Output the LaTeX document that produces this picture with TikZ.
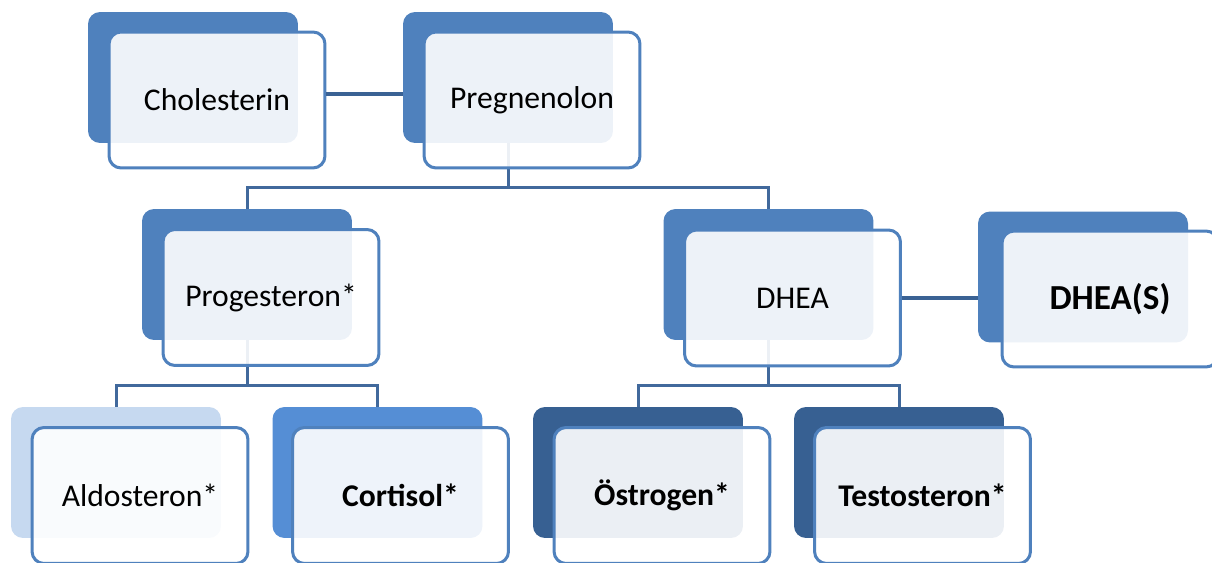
\documentclass[tikz,border=0pt]{standalone}
\usepackage{fontspec}
\setmainfont{Carlito}
\usetikzlibrary{calc}
\definecolor{boxblue}{HTML}{4F81BD}
\definecolor{paleblue}{HTML}{C6D9F0}
\definecolor{brightblue}{HTML}{558ED5}
\definecolor{deepblue}{HTML}{376092}
\definecolor{treeblue}{HTML}{41699C}
\definecolor{linkblue}{HTML}{3A6294}
\tikzset{
	backbox/.style={rectangle, rounded corners=0.24cm, minimum width=4.2cm, minimum height=2.62cm, inner sep=0pt, fill=#1},
	backbox/.default=boxblue,
	frontbox/.style={rectangle, rounded corners=0.24cm, minimum width=4.32cm, minimum height=2.72cm, inner sep=0pt,
		fill=white, fill opacity=0.9, text opacity=1, draw=boxblue, line width=0.06cm,
		font=\fontsize{18}{21}\selectfont},
	tree/.style={line width=0.06cm, draw=treeblue},
	link/.style={line width=0.08cm, draw=linkblue},
}
\begin{document}
\begin{tikzpicture}[x=0.02cm, y=-0.02cm]
			%%%%% FRAME %%%%%
			\clip (0, 0) rectangle (1212, 563);
			
			%%%%% BACK SHAPES %%%%%
			\node[backbox] (cholB) at (193, 77.5) {};
			\node[backbox] (pregB) at (508, 77.5) {};
			
			\node[backbox] (progB) at (247, 274.5) {};
			\node[backbox] (dheaB) at (768.5, 274.5) {};
			\node[backbox] (dheasB) at (1083, 277) {};
			
			\node[backbox=paleblue] (aldoB) at (116, 472.5) {};
			\node[backbox=brightblue] (cortB) at (377.5, 472.5) {};
			\node[backbox=deepblue] (oestB) at (638, 472.5) {};
			\node[backbox=deepblue] (testB) at (899, 472.5) {};
			
			%%%%% TREE LINES %%%%%
			\coordinate (jPreg) at ($(pregB.south)+(0, 44)$);
			\draw[tree] (pregB.south) -- (jPreg) -| (progB.north);
			\draw[tree] (jPreg) -| (dheaB.north);
			
			\coordinate (jProg) at ($(progB.south)+(0, 45)$);
			\draw[tree] (progB.south) -- (jProg) -| (aldoB.north);
			\draw[tree] (jProg) -| (cortB.north);
			
			\coordinate (jDhea) at ($(dheaB.south)+(0, 45)$);
			\draw[tree] (dheaB.south) -- (jDhea) -| (oestB.north);
			\draw[tree] (jDhea) -| (testB.north);
			
			%%%%% FRONT SHAPES %%%%%
			\node[frontbox] (chol) at ([shift={(24, 22.5)}]cholB.center) {Cholesterin};
			\node[frontbox] (preg) at ([shift={(24, 22.5)}]pregB.center) {Pregnenolon};
			
			\node[frontbox] (prog) at ([shift={(24, 23)}]progB.center) {Progesteron*};
			\node[frontbox] (dhea) at ([shift={(24, 23.5)}]dheaB.center) {DHEA};
			\node[frontbox, font=\fontsize{20}{24}\selectfont\bfseries] (dheas) at ([shift={(27, 22)}]dheasB.center) {DHEA(S)};
			
			\node[frontbox] (aldo) at ([shift={(24, 23)}]aldoB.center) {Aldosteron*};
			\node[frontbox] (cort) at ([shift={(23, 23)}]cortB.center) {\bfseries Cortisol*};
			\node[frontbox] (oest) at ([shift={(24, 23)}]oestB.center) {\bfseries Östrogen*};
			\node[frontbox] (test) at ([shift={(23.5, 23)}]testB.center) {\bfseries Testosteron*};
			
			%%%%% LINKS %%%%%
			\draw[link] ($(chol.east)+(0, -6)$) -- ($(chol.east -| pregB.west)+(0, -6)$);
			\draw[link] (dhea.east) -- (dhea.east -| dheasB.west);
			
			%%%%% END %%%%%
\end{tikzpicture}
\end{document}
